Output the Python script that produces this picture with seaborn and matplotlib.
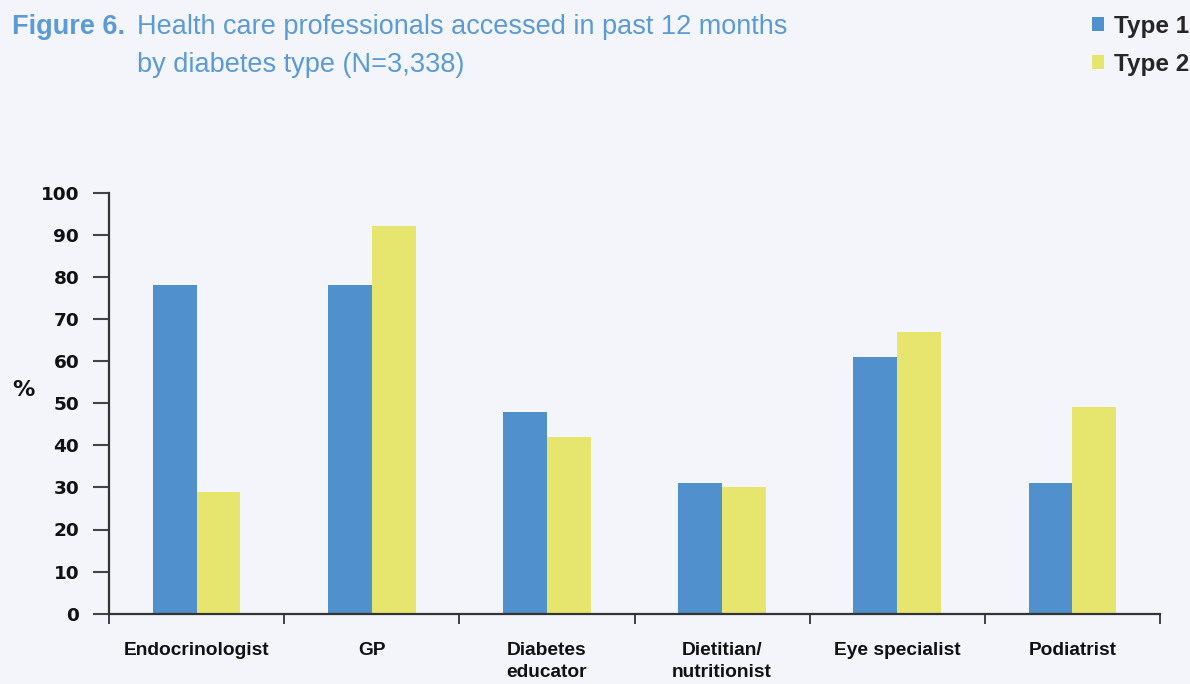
import numpy as np
import pandas as pd
import matplotlib
matplotlib.use("Agg")
import matplotlib.pyplot as plt
from matplotlib import font_manager as fm
from matplotlib.font_manager import FontProperties
import seaborn as sns

categories = ["Endocrinologist", "GP", "Diabetes\neducator", "Dietitian/\nnutritionist",
              "Eye specialist", "Podiatrist"]
type1 = [78, 78, 48, 31, 61, 31]
type2 = [29, 92, 42, 30, 67, 49]
series = ["Type 1", "Type 2"]
yticks = list(range(0, 101, 10))

df = pd.DataFrame({
    "Professional": categories * 2,
    "Percent": type1 + type2,
    "Type": [series[0]] * len(categories) + [series[1]] * len(categories),
})

sns.set_theme(style="white")
bg = "#f3f5fa"
blue = "#5090cc"
yellow = "#e6e66e"
title_col = "#5b9bd5"
plt.rcParams["font.family"] = ["DejaVu Sans"]


def find_narrow(bold):
    cands = []
    for f in fm.fontManager.ttflist:
        name = f.fname.replace("\\", "/").split("/")[-1].lower()
        if "liberationsansnarrow" in name.replace("-", "").replace("_", ""):
            if "italic" in name:
                continue
            isbold = "bold" in name
            if isbold == bold:
                cands.append(f.fname)
    return cands[0] if cands else None


def narrow(size, bold=False):
    path = find_narrow(bold)
    if path:
        return FontProperties(fname=path, size=size)
    return FontProperties(family="Liberation Sans", weight="bold" if bold else "normal",
                          size=size * 0.85)


W, H = 1190, 684
fig = plt.figure(figsize=(W / 100, H / 100), dpi=100, facecolor=bg)
ax = fig.add_axes([109 / W, 1 - 613.7 / H, (1160 - 109) / W, (613.7 - 192.7) / H])
ax.set_facecolor(bg)

sns.barplot(data=df, x="Professional", y="Percent", hue="Type",
            palette=[blue, yellow], width=0.5, saturation=1, linewidth=0,
            errorbar=None, ax=ax)

handles, labels = ax.get_legend_handles_labels()
if ax.get_legend() is not None:
    ax.get_legend().remove()

ax.set_xlim(-0.5, len(categories) - 0.5)
ax.set_ylim(0, 100)
ax.set_yticks(yticks)
ax.set_yticklabels([str(v) for v in yticks], fontsize=13.3, fontweight="bold",
                   color="#111111", family="DejaVu Sans")
ax.tick_params(axis="y", which="major", direction="out", length=11.5, width=1.5,
               color="#444444", pad=10, left=True)

ax.set_xticks(range(len(categories)))
ax.set_xticklabels(categories, fontproperties=narrow(16.2, True), color="#111111",
                   linespacing=1.35)
ax.set_xticks(np.arange(-0.5, len(categories), 1.0), minor=True)
ax.tick_params(axis="x", which="major", length=0, pad=20.5)
ax.tick_params(axis="x", which="minor", direction="out", length=7.5, width=1.3,
               color="#333333", bottom=True)

for s in ["top", "right"]:
    ax.spines[s].set_visible(False)
for s in ["left", "bottom"]:
    ax.spines[s].set_color("#333333")
    ax.spines[s].set_linewidth(1.6)

ax.set_xlabel("")
ax.set_ylabel("%", rotation=0, fontsize=16, fontweight="bold", color="#111111",
              family="DejaVu Sans", va="center", ha="center")
ax.yaxis.set_label_coords((23 - 109) / 1051, (613.7 - 390) / 421)

# Title
tprop_b = FontProperties(family="Liberation Sans", weight="bold", size=19.5)
tprop = FontProperties(family="Liberation Sans", weight="normal", size=19.5)
fig.text(12 / W, 1 - 34 / H, "Figure 6.", fontproperties=tprop_b,
         color=title_col, va="baseline", ha="left")
fig.text(137 / W, 1 - 34 / H, "Health care professionals accessed in past 12 months",
         fontproperties=tprop, color=title_col, va="baseline", ha="left")
fig.text(137 / W, 1 - 72 / H, "by diabetes type (N=3,338)",
         fontproperties=tprop, color=title_col, va="baseline", ha="left")

# Legend
fig.legend(handles, labels, loc="upper right", bbox_to_anchor=(1189 / W, 1 - 15 / H),
           frameon=False, borderpad=0, borderaxespad=0, handlelength=0.5,
           handleheight=0.5, handletextpad=0.4, labelspacing=0.6,
           prop=FontProperties(family="Liberation Sans", weight="bold", size=17.5))

fig.savefig("out.png", dpi=100, facecolor=bg)
